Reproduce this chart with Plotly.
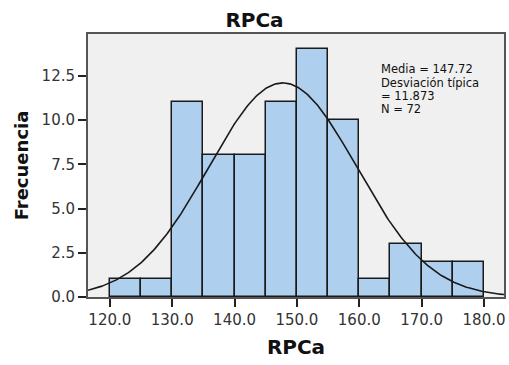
import numpy as np
import plotly.graph_objects as go

# Histogram of RPCa: bin lower edges (width 5) and frequencies
bin_starts = [120, 125, 130, 135, 140, 145, 150, 155, 160, 165, 170, 175]
counts = [1, 1, 11, 8, 8, 11, 14, 10, 1, 3, 2, 2]
bin_width = 5

# Summary statistics shown in the legend box
media = 147.72
desv = 11.873
n = 72
stat_lines = ["Media = 147.72", "Desviación típica", "= 11.873", "N = 72"]

x_ticks = [120, 130, 140, 150, 160, 170, 180]
y_ticks = [0, 2.5, 5, 7.5, 10, 12.5]
x_range = [116.5, 183.2]
y_range = [0, 14.86]

centers = [b + bin_width / 2 for b in bin_starts]

# Normal curve scaled to frequencies
xs = np.linspace(x_range[0], x_range[1], 300)
ys = n * bin_width / (desv * np.sqrt(2 * np.pi)) * np.exp(-0.5 * ((xs - media) / desv) ** 2)

font_family = "DejaVu Sans, sans-serif"

fig = go.Figure()
fig.add_trace(go.Bar(
    x=centers, y=counts, width=bin_width,
    marker=dict(color="#aecfee", line=dict(color="#1a1a1a", width=1.5)),
    showlegend=False, hoverinfo="x+y",
))
fig.add_trace(go.Scatter(
    x=xs, y=ys, mode="lines",
    line=dict(color="#1a1a1a", width=1.6),
    showlegend=False, hoverinfo="skip",
))

# Stats text block, tightly spaced lines
plot_top, plot_h = 34, 263
line_centers_px = [69, 82.5, 96, 109.5]
for txt, py in zip(stat_lines, line_centers_px):
    fig.add_annotation(
        x=0.699, y=(plot_top + plot_h - py) / plot_h, xref="paper", yref="paper",
        xanchor="left", yanchor="middle", align="left", showarrow=False,
        text=txt, font=dict(family=font_family, size=11.5, color="#111"),
    )

fig.update_layout(
    width=509, height=365,
    margin=dict(l=88, r=3, t=34, b=68),
    paper_bgcolor="white", plot_bgcolor="#f0f0f0",
    bargap=0,
    title=dict(text="<b>RPCa</b>", x=0.5, xanchor="center", y=0.945, yanchor="middle",
               font=dict(family=font_family, size=20, color="#111")),
    font=dict(family=font_family, size=15, color="#333"),
)
fig.update_xaxes(
    range=x_range, tickvals=x_ticks, tickformat=".1f",
    ticks="outside", ticklen=8, tickwidth=1.5, tickcolor="#222",
    showgrid=False, zeroline=False,
    showline=True, linecolor="#555", linewidth=2, mirror=True,
    title=dict(text="<b>RPCa</b>", font=dict(size=20, color="#111"), standoff=12),
    tickfont=dict(size=15),
)
fig.update_yaxes(
    range=y_range, tickvals=y_ticks, tickformat=".1f",
    ticks="outside", ticklen=8, tickwidth=1.5, tickcolor="#222",
    showgrid=False, zeroline=False,
    showline=True, linecolor="#555", linewidth=2, mirror=True,
    title=dict(text="<b>Frecuencia</b>", font=dict(size=18, color="#111"), standoff=8),
    tickfont=dict(size=15),
)

fig.write_html("out.html")
